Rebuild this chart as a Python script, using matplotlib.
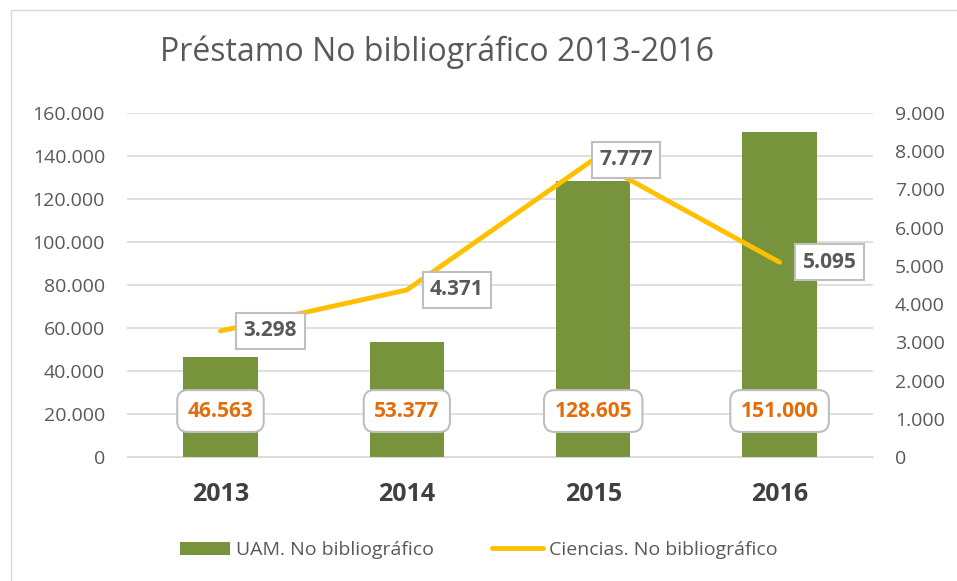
import numpy as np
import matplotlib.pyplot as plt
from matplotlib.patches import Rectangle
from matplotlib.ticker import FuncFormatter

# Datos
anios = ['2013', '2014', '2015', '2016']
uam = [46563, 53377, 128605, 151000]
ciencias = [3298, 4371, 7777, 5095]

plt.rcParams['font.family'] = ['Open Sans', 'DejaVu Sans']

def miles(v, pos=None):
    return '{:,.0f}'.format(v).replace(',', '.')

fig = plt.figure(figsize=(9.57, 5.81), dpi=100)
ax = fig.add_axes([0.133, 0.2134, 0.779, 0.5921])
ax2 = ax.twinx()

x = np.arange(len(anios))
barras = ax.bar(x, uam, width=0.4, color='#77933C', label='UAM. No bibliográfico', zorder=2)
linea, = ax2.plot(x, ciencias, color='#FFC000', lw=3.5, solid_capstyle='round',
                  label='Ciencias. No bibliográfico', zorder=3)

ax.set_xlim(-0.5, len(anios) - 0.5)
ax.set_ylim(0, 160000)
ax2.set_ylim(0, 9000)
ax.set_yticks(np.arange(0, 160001, 20000))
ax2.set_yticks(np.arange(0, 9001, 1000))
ax.yaxis.set_major_formatter(FuncFormatter(miles))
ax2.yaxis.set_major_formatter(FuncFormatter(miles))
ax.grid(axis='y', color='#D9D9D9', lw=1.2, zorder=0)
ax.set_axisbelow(True)

for a in (ax, ax2):
    for s in a.spines.values():
        s.set_visible(False)
    a.tick_params(length=0, labelsize=14, labelcolor='#595959')
ax.spines['bottom'].set_visible(True)
ax.spines['bottom'].set_color('#D9D9D9')
ax.set_xticks(x)
ax.set_xticklabels(anios, fontsize=18, fontweight='bold', color='#404040')
ax.tick_params(axis='x', pad=18)
ax.tick_params(axis='y', pad=16)
ax2.tick_params(axis='y', pad=16)

# Etiquetas de las barras
for xi, v in zip(x, uam):
    ax.annotate(miles(v), (xi, 0), xytext=(0, 46), textcoords='offset pixels',
                ha='center', va='center', fontsize=15, fontweight='bold', color='#E46C0A',
                bbox=dict(boxstyle='round,pad=0.5,rounding_size=0.5', fc='white', ec='#BFBFBF', lw=1.5),
                zorder=5)

# Etiquetas de la linea
desp = [50, 50, 33, 50]
for xi, v, d in zip(x, ciencias, desp):
    ax2.annotate(miles(v), (xi, v), xytext=(d, 0), textcoords='offset pixels',
                 ha='center', va='center', fontsize=15, fontweight='bold', color='#595959',
                 bbox=dict(boxstyle='square,pad=0.35', fc='white', ec='#BFBFBF', lw=1.5),
                 zorder=5)

fig.text(0.167, 0.91, 'Préstamo No bibliográfico 2013-2016', fontsize=23, color='#595959',
         va='center', ha='left')

fig.legend([barras, linea], ['UAM. No bibliográfico', 'Ciencias. No bibliográfico'],
           loc='center', bbox_to_anchor=(0.5, 0.053), ncol=2, frameon=False,
           fontsize=14, labelcolor='#595959', handlelength=2.6, columnspacing=3.0,
           handletextpad=0.3)

fig.patches.append(Rectangle((0.011, -0.01), 0.99, 0.993, transform=fig.transFigure,
                             fill=False, ec='#D9D9D9', lw=1))

fig.savefig('out.png', dpi=100)
